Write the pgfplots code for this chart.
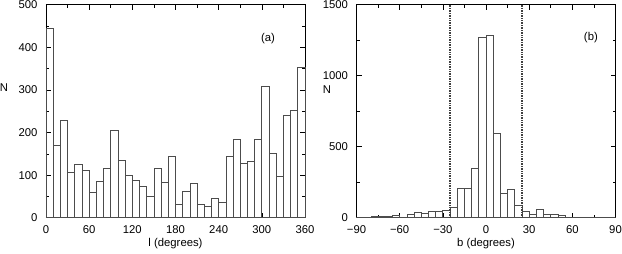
\documentclass[border=0pt]{standalone}
\usepackage{fontspec}
\setmainfont{Liberation Sans}
\usepackage{pgfplots}
\pgfplotsset{compat=1.18}
\newcommand{\cf}{\fontsize{11.3}{13}\selectfont}
\pgfplotsset{
  hist/.style={
    scale only axis,
    width=259pt, height=213.1pt,
    anchor=south west,
    axis line style={black, line width=0.7pt},
    tick align=inside,
    major tick length=5pt,
    minor tick length=3pt,
    tick style={black, line width=0.6pt},
    minor x tick num=1,
    minor y tick num=1,
    ymin=0,
    /pgf/number format/assume math mode=true,
    /pgf/number format/1000 sep={},
    tick label style={font=\cf},
    label style={font=\cf},
    xticklabel style={yshift=-4pt},
    yticklabel style={xshift=-5pt},
    every axis plot/.append style={line width=0.7pt},
    clip=false,
  }
}
\begin{document}
\begin{tikzpicture}
\useasboundingbox (0,0) rectangle (622pt,254pt);
% ---------- panel (a)
\begin{axis}[hist,
  at={(46pt,36.2pt)},
  xmin=0, xmax=360, ymax=500,
  xtick={0,60,...,360},
  ytick={0,100,...,500},
  xlabel={l (degrees)},
  xlabel style={at={(axis description cs:0.5,-0.123)}, anchor=center},
]
\addplot[ybar interval, draw=black!70, fill=none] coordinates {
(0,444) (10,170) (20,229) (30,107) (40,125) (50,111) (60,60) (70,86)
(80,115) (90,205) (100,134) (110,99) (120,89) (130,74) (140,50) (150,117)
(160,84) (170,145) (180,32) (190,63) (200,81) (210,32) (220,27) (230,45)
(240,36) (250,145) (260,184) (270,128) (280,132) (290,183) (300,309) (310,152)
(320,97) (330,241) (340,251) (350,354) (360,354)
};
\node[font=\cf, anchor=center] at (axis description cs:-0.162,0.609) {N};
\node[font=\cf] at (axis description cs:0.857,0.839) {(a)};
\end{axis}
% ---------- panel (b)
\begin{axis}[hist,
  at={(356.5pt,36.2pt)},
  xmin=-90, xmax=90, ymax=1500,
  xtick={-90,-60,...,90},
  xticklabels={−90,−60,−30,0,30,60,90},
  ytick={0,500,1000,1500},
  xlabel={b (degrees)},
  xlabel style={at={(axis description cs:0.5,-0.123)}, anchor=center},
]
\addplot[ybar interval, draw=black!70, fill=none] coordinates {
(-90,3) (-85,2) (-80,7) (-75,9) (-70,12) (-65,14) (-60,5) (-55,23)
(-50,35) (-45,33) (-40,47) (-35,42) (-30,54) (-25,76) (-20,209) (-15,209)
(-10,348) (-5,1271) (0,1287) (5,597) (10,170) (15,203) (20,89) (25,42)
(30,26) (35,61) (40,26) (45,21) (50,16) (55,5) (60,5) (65,5)
(70,4) (75,4) (80,4) (85,0) (90,0)
};
\addplot[densely dotted, line width=1.3pt, black!75] coordinates {(-25,0) (-25,1500)};
\addplot[densely dotted, line width=1.3pt, black!75] coordinates {(25,0) (25,1500)};
\node[font=\cf, anchor=center] at (axis description cs:-0.114,0.6) {N};
\node[font=\cf] at (axis description cs:0.905,0.844) {(b)};
\end{axis}
\end{tikzpicture}
\end{document}
